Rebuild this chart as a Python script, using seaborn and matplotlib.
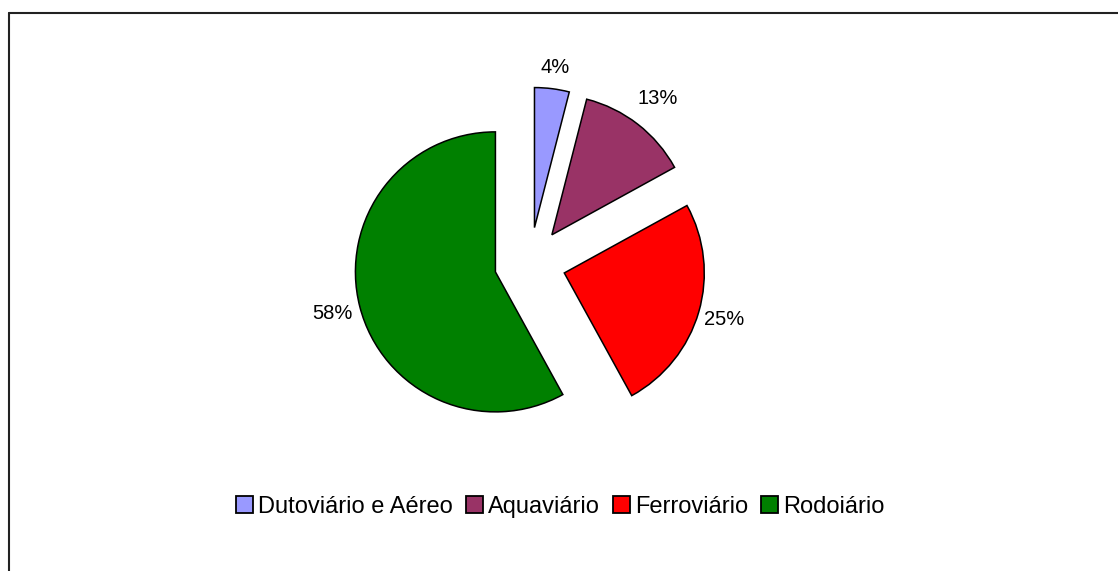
import matplotlib
matplotlib.use("Agg")
import numpy as np
import matplotlib.pyplot as plt
from matplotlib.patches import Patch
from matplotlib.lines import Line2D
import seaborn as sns

# ── Dados ─────────────────────────────────────────────────────────────────────
modais  = ["Dutoviário e Aéreo", "Aquaviário", "Ferroviário", "Rodoiário"]
valores = [4, 13, 25, 58]
cores   = ["#9999FF", "#993366", "#FF0000", "#008000"]

sns.set_theme(style="white")
plt.rcParams["font.family"] = ["Liberation Sans", "DejaVu Sans"]

W, H = 1118, 571
fig = plt.figure(figsize=(W / 100, H / 100), dpi=100)

# eixo quadrado centrado no centro da pizza (530, 263) px, raio = 140 px
cx, cy, r, half = 530, 263, 140, 260
ax = fig.add_axes([(cx - half) / W, (H - cy - half) / H, 2 * half / W, 2 * half / H])

explode = 0.255
paleta = sns.color_palette(cores)
wedges, _, autotexts = ax.pie(
    valores, colors=paleta, startangle=90, counterclock=False,
    explode=[explode] * len(valores), autopct="%1.0f%%", pctdistance=1.2,
    wedgeprops={"edgecolor": "black", "linewidth": 1.1},
    textprops={"fontsize": 14.5, "color": "black"},
)

# distância dos rótulos ajustada por fatia (como no Excel)
dist_rotulo = [1.15, 1.23, 1.19, 1.20]
for w, t, d in zip(wedges, autotexts, dist_rotulo):
    ang = np.deg2rad((w.theta1 + w.theta2) / 2)
    t.set_position(((explode + d) * np.cos(ang), (explode + d) * np.sin(ang)))

lim = half / r
ax.set_xlim(-lim, lim)
ax.set_ylim(-lim, lim)
ax.set_aspect("equal")
ax.axis("off")

handles = [Patch(facecolor=c, edgecolor="black", linewidth=1.3) for c in paleta]
fig.legend(handles, modais, loc="center", bbox_to_anchor=(560.5 / W, (H - 507) / H),
           ncol=4, frameon=False, fontsize=17, handlelength=0.72, handleheight=0.72,
           handletextpad=0.22, columnspacing=0.55, borderpad=0, borderaxespad=0,
           labelcolor="black")

# moldura (esquerda e topo)
x0, y0 = 8.5 / W, 1 - 13 / H
fig.add_artist(Line2D([x0, x0], [0, y0], color="#222222", lw=1.5, transform=fig.transFigure))
fig.add_artist(Line2D([x0, 1], [y0, y0], color="#222222", lw=1.5, transform=fig.transFigure))

fig.savefig("out.png", dpi=100)
